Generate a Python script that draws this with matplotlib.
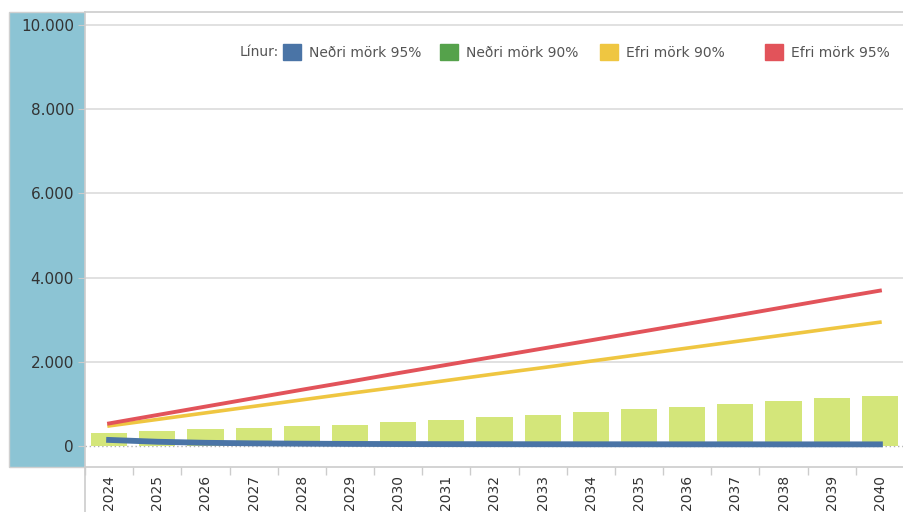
import numpy as np
import matplotlib.pyplot as plt
from matplotlib.patches import Rectangle, Patch
from matplotlib.ticker import FuncFormatter

years = [str(y) for y in range(2024, 2041)]
bars = [317, 357, 397, 429, 468, 508, 579, 619, 690, 738, 810, 881, 921, 1000, 1071, 1143, 1190]
nedri95 = [143, 100, 75, 62, 54, 48, 45, 43, 42, 41, 40, 40, 39, 39, 38, 38, 38]
nedri90 = [160, 118, 92, 78, 70, 64, 60, 58, 56, 55, 54, 53, 52, 52, 51, 51, 50]
efri90 = [476, 630, 785, 940, 1095, 1250, 1400, 1555, 1710, 1860, 2015, 2170, 2325, 2480, 2635, 2790, 2940]
efri95 = [535, 735, 935, 1135, 1335, 1530, 1730, 1925, 2120, 2315, 2510, 2705, 2900, 3095, 3295, 3495, 3690]

line_names = ['Neðri mörk 95%', 'Neðri mörk 90%', 'Efri mörk 90%', 'Efri mörk 95%']
line_colors = ['#4a74a6', '#55a24b', '#efc641', '#e2535a']
legend_x = [283, 440, 600, 765]  # pixel position of each legend swatch

W, H = 904, 512
plt.rcParams['font.family'] = 'DejaVu Sans'
fig = plt.figure(figsize=(W / 100, H / 100), dpi=100)

# blue panel behind the y tick labels
fig.patches.append(Rectangle((9 / W, 1 - 467 / H), 76 / W, 455 / H, transform=fig.transFigure,
                             facecolor='#8cc4d4', edgecolor='#d0d0d0', lw=1, zorder=-5))

ax = fig.add_axes([85 / W, 1 - 467 / H, 1 - 85 / W, 455 / H])
ax.set_zorder(1)
ax.set_facecolor('white')
x = np.arange(len(years))

ax.bar(x, bars, width=0.75, color='#d4e67a', zorder=2)
ax.plot(x, nedri90, color=line_colors[1], lw=2, zorder=3)
ax.plot(x, efri90, color=line_colors[2], lw=2.6, zorder=3)
ax.plot(x, efri95, color=line_colors[3], lw=2.8, zorder=3)
ax.plot(x, nedri95, color=line_colors[0], lw=4.2, zorder=4)

ax.set_xlim(-0.5, len(years) - 0.5)
ax.set_ylim(-500, 10310)
ax.set_yticks(np.arange(0, 10001, 2000))
ax.yaxis.set_major_formatter(FuncFormatter(lambda v, p: f'{int(v):,}'.replace(',', '.')))
for yv in range(2000, 10001, 2000):
    ax.axhline(yv, color='#dcdcdc', lw=1.2, zorder=1)
ax.axhline(0, color='#b0b0b0', lw=1, ls=(0, (1, 2)), zorder=1)

ax.set_xticks(x)
ax.set_xticklabels(years, rotation=90, va='top')
ax.set_xticks(np.arange(-0.5, len(years), 1), minor=True)
ax.tick_params(axis='x', which='major', length=0, pad=6, labelsize=10, labelcolor='#333333')
ax.tick_params(axis='x', which='minor', length=6, color='#cccccc', width=1)
ax.tick_params(axis='y', length=5, color='#cccccc', pad=3, labelsize=11, labelcolor='#333333')

ax.spines['right'].set_visible(False)
for s in ['left', 'bottom', 'top']:
    ax.spines[s].set_color('#cccccc')
    ax.spines[s].set_linewidth(1.2)

# left axis line continues down through the label area
fig.add_artist(plt.Line2D([85 / W, 85 / W], [0, 1 - 467 / H], color='#cccccc', lw=1.2,
                          transform=fig.transFigure))

for name, col, px in zip(line_names, line_colors, legend_x):
    leg = fig.legend([Patch(facecolor=col, edgecolor=col)], [name], loc='center left',
                     bbox_to_anchor=(px / W, 1 - 52 / H), frameon=False, fontsize=10,
                     handlelength=1.3, handleheight=1.5, handletextpad=0.6,
                     borderpad=0, borderaxespad=0)
    leg.get_texts()[0].set_color('#555555')
fig.text(279 / W, 1 - 52 / H, 'Línur:', ha='right', va='center', fontsize=10, color='#555555')

fig.savefig('out.png', dpi=100)
